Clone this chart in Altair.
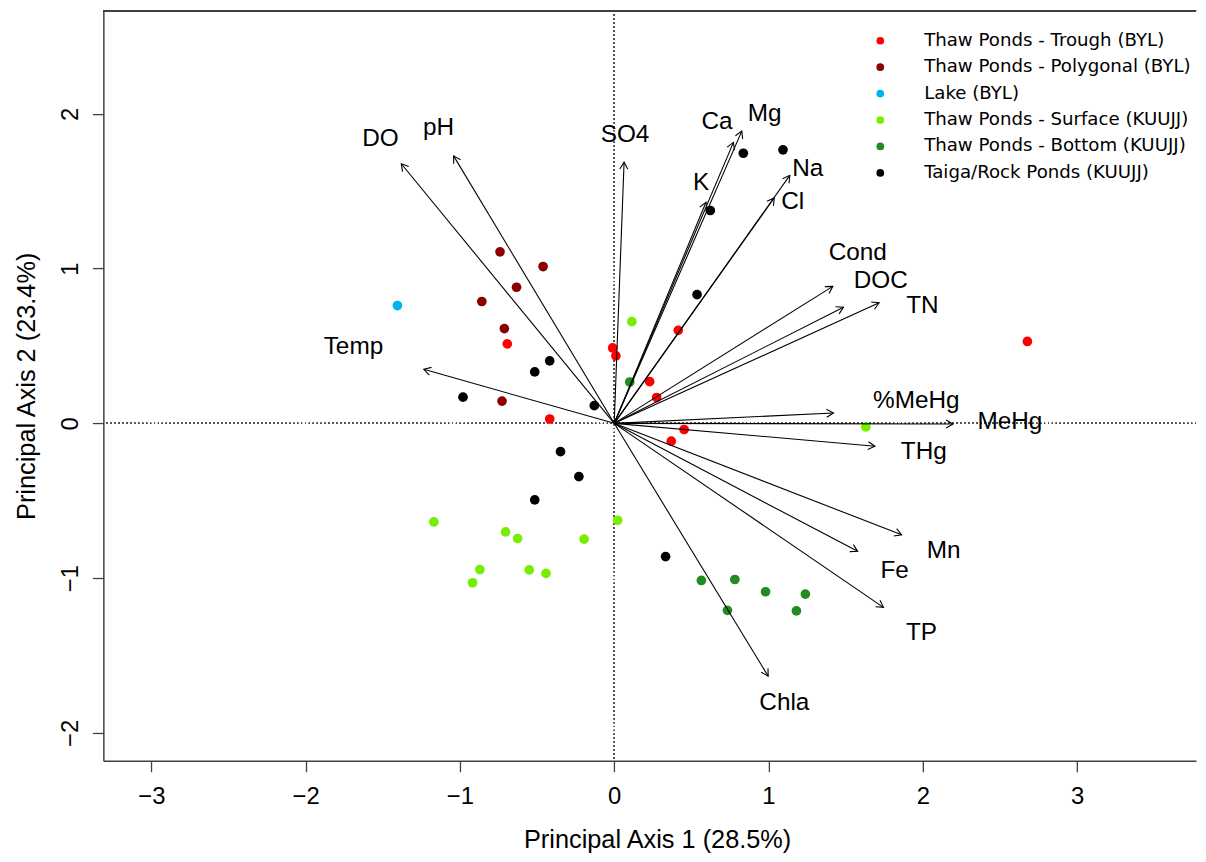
import altair as alt
import pandas as pd
import numpy as np

# ---- groups / colours ----
groups = ["Thaw Ponds - Trough (BYL)", "Thaw Ponds - Polygonal (BYL)", "Lake (BYL)",
          "Thaw Ponds - Surface (KUUJJ)", "Thaw Ponds - Bottom (KUUJJ)", "Taiga/Rock Ponds (KUUJJ)"]
colors = ["#FF0000", "#8B0000", "#00B2EE", "#76EE00", "#228B22", "#000000"]

# ---- site scores ----
trough_x = [-0.693, -0.010, 0.011, 0.415, 0.230, 0.275, -0.418, 0.453, 0.370, 2.678]
trough_y = [0.513, 0.487, 0.436, 0.601, 0.269, 0.167, 0.028, -0.040, -0.115, 0.529]

polyg_x = [-0.740, -0.461, -0.633, -0.858, -0.712, -0.727]
polyg_y = [1.108, 1.013, 0.879, 0.787, 0.612, 0.144]

lake_x = [-1.405]
lake_y = [0.761]

surf_x = [0.114, -1.169, -0.704, -0.626, -0.195, 0.022, -0.871, -0.551, -0.442, -0.918, 1.631]
surf_y = [0.657, -0.637, -0.701, -0.744, -0.748, -0.626, -0.945, -0.947, -0.969, -1.030, -0.023]

bottom_x = [0.101, 0.565, 0.782, 0.981, 1.239, 0.734, 1.181]
bottom_y = [0.267, -1.015, -1.009, -1.088, -1.103, -1.208, -1.212]

taiga_x = [0.837, 1.094, 0.623, 0.537, -0.418, -0.515, -0.980, -0.129, -0.348, -0.229, -0.515, 0.333]
taiga_y = [1.745, 1.767, 1.375, 0.832, 0.404, 0.332, 0.169, 0.114, -0.183, -0.344, -0.494, -0.861]

# ---- variable loadings (arrow tips) and label positions ----
var_names = ["DO", "pH", "Temp", "SO4", "Ca", "Mg", "K", "Na", "Cl", "Cond", "DOC", "TN",
             "%MeHg", "MeHg", "THg", "Mn", "Fe", "TP", "Chla"]
var_x = [-1.380, -1.041, -1.234, 0.064, 0.773, 0.827, 0.595, 1.138, 1.037, 1.417, 1.486, 1.717,
         1.421, 2.196, 1.690, 1.863, 1.578, 1.745, 0.998]
var_y = [1.677, 1.728, 0.349, 1.687, 1.815, 1.888, 1.428, 1.602, 1.456, 0.885, 0.750, 0.779,
         0.067, -0.004, -0.148, -0.720, -0.827, -1.189, -1.633]
lab_x = [-1.515, -1.139, -1.690, 0.070, 0.666, 0.975, 0.563, 1.255, 1.157, 1.579, 1.728, 1.998,
         1.958, 2.565, 2.007, 2.135, 1.818, 1.992, 1.103]
lab_y = [1.839, 1.905, 0.491, 1.860, 1.946, 1.999, 1.552, 1.642, 1.432, 1.103, 0.919, 0.759,
         0.141, 0.011, -0.185, -0.828, -0.953, -1.355, -1.810]

x_ticks = [-3, -2, -1, 0, 1, 2, 3]
y_ticks = [-2, -1, 0, 1, 2]

# ---- tables ----
series = [(groups[0], trough_x, trough_y), (groups[1], polyg_x, polyg_y), (groups[2], lake_x, lake_y),
          (groups[3], surf_x, surf_y), (groups[4], bottom_x, bottom_y), (groups[5], taiga_x, taiga_y)]
pts = pd.concat([pd.DataFrame({"group": g, "x": xs, "y": ys}) for g, xs, ys in series],
                ignore_index=True)

W, H = 1100, 755
XD = [-3.311, 3.771]
YD = [-2.180, 2.665]
kx = W / (XD[1] - XD[0])
ky = H / (YD[1] - YD[0])

vec = pd.DataFrame({"var": var_names, "xe": var_x, "ye": var_y, "lx": lab_x, "ly": lab_y})
vec["x0"] = 0.0
vec["y0"] = 0.0
vec["ang"] = np.mod(np.degrees(np.arctan2(vec["xe"] * kx, vec["ye"] * ky)), 360)

FONT = "Liberation Sans"
xs = alt.Scale(domain=XD, nice=False, zero=False)
ys = alt.Scale(domain=YD, nice=False, zero=False)
xaxis = alt.Axis(values=x_ticks, format="d", grid=False, tickSize=11, labelPadding=13,
                 labelFontSize=24, labelFont=FONT, labelColor="black", domainColor="#404040",
                 domainWidth=1.5, tickColor="#404040", tickWidth=1.3,
                 title="Principal Axis 1 (28.5%)", titleFont=FONT, titleFontSize=25.5,
                 titleFontWeight="normal", titleColor="black", titleX=557.5, titleY=87,
                 titleAlign="center", titleBaseline="alphabetic", labelFlush=False)
yaxis = alt.Axis(values=y_ticks, format="d", grid=False, tickSize=11, labelPadding=10,
                 labelFontSize=24, labelFont=FONT, labelColor="black", labelAngle=270,
                 labelAlign="center", labelBaseline="bottom", domainColor="#404040",
                 domainWidth=1.5, tickColor="#404040", tickWidth=1.3,
                 title="Principal Axis 2 (23.4%)", titleFont=FONT, titleFontSize=25.5,
                 titleFontWeight="normal", titleColor="black", titleAngle=270, titleX=-69,
                 titleY=377.5, titleAlign="center", titleBaseline="alphabetic", labelFlush=False)


def X(f):
    return alt.X(f, type="quantitative", scale=xs, axis=xaxis)


def Y(f):
    return alt.Y(f, type="quantitative", scale=ys, axis=yaxis)


zero_v = alt.Chart(pts).mark_rule(color="#555555", strokeDash=[1, 3], strokeWidth=1).encode(
    x=alt.datum(0))
zero_h = alt.Chart(pts).mark_rule(color="#555555", strokeDash=[1, 3], strokeWidth=1).encode(
    y=alt.datum(0))
top_border = alt.Chart(pts).mark_rule(color="#404040", strokeWidth=1.5).encode(
    x=alt.value(0), x2=alt.value(W), y=alt.value(0))

points = alt.Chart(pts).mark_circle(size=95, opacity=1).encode(
    x=X("x"), y=Y("y"),
    color=alt.Color("group:N", scale=alt.Scale(domain=groups, range=colors),
                    legend=alt.Legend(title=None, orient="none", legendX=773, legendY=21,
                                      symbolType="circle", symbolSize=60, symbolStrokeWidth=0,
                                      labelFont="DejaVu Sans", labelFontSize=18.3, labelOffset=35,
                                      rowPadding=7.6, padding=0, labelLimit=500,
                                      labelColor="black")))

arrows = alt.Chart(vec).mark_rule(color="black", strokeWidth=1.1).encode(
    x=X("x0"), y=Y("y0"), x2="xe", y2="ye")

heads = alt.Chart(vec).mark_point(shape="M -0.5 0.866 L 0 0 L 0.5 0.866", filled=False,
                                  size=256, strokeWidth=1.1, color="black", opacity=1).encode(
    x=X("xe"), y=Y("ye"), angle=alt.Angle("ang:Q", scale=None))

labels = alt.Chart(vec).mark_text(font=FONT, fontSize=24.5, color="black", align="center",
                                  baseline="middle").encode(
    x=X("lx"), y=Y("ly"), text="var:N")

chart = alt.layer(zero_v, zero_h, top_border, points, arrows, heads, labels).properties(
    width=W, height=H,
    autosize=alt.AutoSizeParams(type="none"),
    padding={"left": 96, "top": 0, "right": 2, "bottom": 91},
    background="white",
).configure_view(stroke="transparent")

chart.save("out.html", embed_options={"renderer": "svg", "actions": False})
